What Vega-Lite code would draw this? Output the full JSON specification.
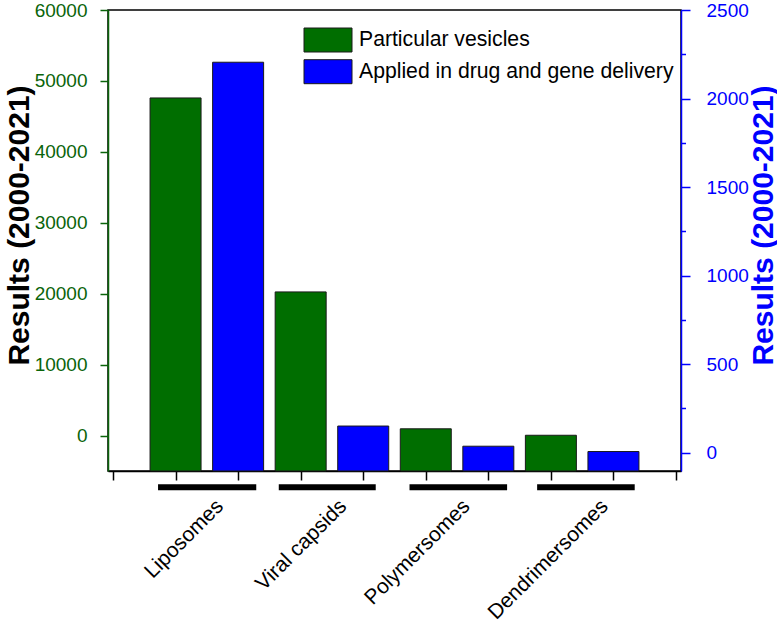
{
  "$schema": "https://vega.github.io/schema/vega-lite/v6.json",
  "width": 573,
  "height": 461,
  "autosize": {"type": "none"},
  "padding": {"left": 108, "top": 10, "right": 96, "bottom": 150},
  "config": {
    "font": "Liberation Sans",
    "view": {"stroke": "black", "strokeWidth": 1.5},
    "axis": {"grid": false, "domainWidth": 1.5, "tickWidth": 1.5, "labelFont": "Liberation Sans", "titleFont": "Liberation Sans"}
  },
  "datasets": {
    "vesicles": [
      {"group": "Liposomes", "series": "Particular vesicles", "pos": 1, "value": 47600},
      {"group": "Viral capsids", "series": "Particular vesicles", "pos": 3, "value": 20250},
      {"group": "Polymersomes", "series": "Particular vesicles", "pos": 5, "value": 950},
      {"group": "Dendrimersomes", "series": "Particular vesicles", "pos": 7, "value": 40}
    ],
    "delivery": [
      {"group": "Liposomes", "series": "Applied in drug and gene delivery", "pos": 2, "value": 2205},
      {"group": "Viral capsids", "series": "Applied in drug and gene delivery", "pos": 4, "value": 150},
      {"group": "Polymersomes", "series": "Applied in drug and gene delivery", "pos": 6, "value": 36},
      {"group": "Dendrimersomes", "series": "Applied in drug and gene delivery", "pos": 8, "value": 6}
    ],
    "groups": [
      {"group": "Liposomes", "start": 0.72, "end": 2.29, "lx": 1.59},
      {"group": "Viral capsids", "start": 2.65, "end": 4.2, "lx": 3.56},
      {"group": "Polymersomes", "start": 4.74, "end": 6.3, "lx": 5.53},
      {"group": "Dendrimersomes", "start": 6.78, "end": 8.34, "lx": 7.74}
    ]
  },
  "layer": [
    {
      "layer": [
        {
          "data": {"name": "vesicles"},
          "mark": {"type": "bar", "size": 51, "stroke": "#1a1a1a", "strokeWidth": 1},
          "encoding": {
            "x": {
              "field": "pos", "type": "quantitative", "title": null,
              "scale": {"domain": [0, 9], "nice": false, "zero": false},
              "axis": {
                "orient": "bottom",
                "values": [0, 0.5, 1, 1.5, 2, 2.5, 3, 3.5, 4, 4.5, 5, 5.5, 6, 6.5, 7, 7.5, 8, 8.5, 9],
                "labels": false,
                "domainColor": "black",
                "tickColor": "black",
                "tickSize": {"condition": {"test": "datum.value % 1 === 0", "value": 9}, "value": 5}
              }
            },
            "y": {
              "field": "value", "type": "quantitative",
              "scale": {"domain": [-5000, 60000], "nice": false, "zero": false},
              "axis": {
                "orient": "left",
                "title": "Results (2000-2021)",
                "titleFontSize": 30,
                "titleFontWeight": "bold",
                "titleColor": "black",
                "titleAngle": 270,
                "titleAlign": "center",
                "titleBaseline": "alphabetic",
                "titleX": -80,
                "titleY": 215,
                "values": [0, 5000, 10000, 15000, 20000, 25000, 30000, 35000, 40000, 45000, 50000, 55000, 60000],
                "format": "d",
                "labelExpr": "datum.value % 10000 === 0 ? datum.label : ''",
                "labelFontSize": 19,
                "labelColor": "#0a640a",
                "labelAlign": "right",
                "labelPadding": 13,
                "domainColor": "#0a640a",
                "tickColor": "#0a640a",
                "tickSize": {"condition": {"test": "datum.value % 10000 === 0", "value": 8}, "value": 4.5}
              }
            },
            "y2": {"datum": -5000},
            "color": {
              "field": "series", "type": "nominal",
              "scale": {"domain": ["Particular vesicles", "Applied in drug and gene delivery"], "range": ["#006e00", "#0000ff"]},
              "legend": {
                "title": null,
                "orient": "none",
                "legendX": 207.5,
                "legendY": 17.5,
                "padding": 0,
                "symbolType": "M-2,-1H2V1H-2Z",
                "symbolSize": 576,
                "symbolStrokeColor": "black",
                "symbolStrokeWidth": 1,
                "symbolOpacity": 1,
                "labelFont": "Liberation Sans",
                "labelFontSize": 21.2,
                "labelColor": "black",
                "labelOffset": 18.5,
                "rowPadding": 2.7,
                "labelLimit": 500
              }
            }
          }
        },
        {
          "data": {"name": "groups"},
          "mark": {"type": "rule", "strokeWidth": 6, "color": "black", "strokeCap": "butt"},
          "encoding": {
            "x": {"field": "start", "type": "quantitative", "title": null},
            "x2": {"field": "end"},
            "y": {"datum": -7300}
          }
        },
        {
          "data": {"name": "groups"},
          "mark": {"type": "text", "angle": 315, "align": "right", "baseline": "top", "fontSize": 21, "font": "Liberation Sans", "color": "black"},
          "encoding": {
            "x": {"field": "lx", "type": "quantitative", "title": null},
            "y": {"datum": -8450},
            "text": {"field": "group"}
          }
        }
      ]
    },
    {
      "data": {"name": "delivery"},
      "mark": {"type": "bar", "size": 51, "stroke": "#1a1a1a", "strokeWidth": 1},
      "encoding": {
        "x": {"field": "pos", "type": "quantitative", "title": null},
        "y": {
          "field": "value", "type": "quantitative",
          "scale": {"domain": [-104, 2500], "nice": false, "zero": false},
          "axis": {
            "orient": "right",
            "title": "Results (2000-2021)",
            "titleFontSize": 30,
            "titleFontWeight": "bold",
            "titleColor": "#0000ff",
            "titleAngle": 270,
            "titleAlign": "center",
            "titleBaseline": "alphabetic",
            "titleX": 91,
            "titleY": 215,
            "values": [0, 250, 500, 750, 1000, 1250, 1500, 1750, 2000, 2250, 2500],
            "format": "d",
            "labelExpr": "datum.value % 500 === 0 ? datum.label : ''",
            "labelFontSize": 19,
            "labelColor": "#0000ff",
            "labelAlign": "left",
            "labelPadding": 16,
            "domainColor": "#0000ff",
            "tickColor": "#0000ff",
            "tickSize": {"condition": {"test": "datum.value % 500 === 0", "value": 9}, "value": 4.5}
          }
        },
        "y2": {"datum": -104},
        "color": {"field": "series", "type": "nominal"}
      }
    }
  ],
  "resolve": {"scale": {"y": "independent"}}
}
